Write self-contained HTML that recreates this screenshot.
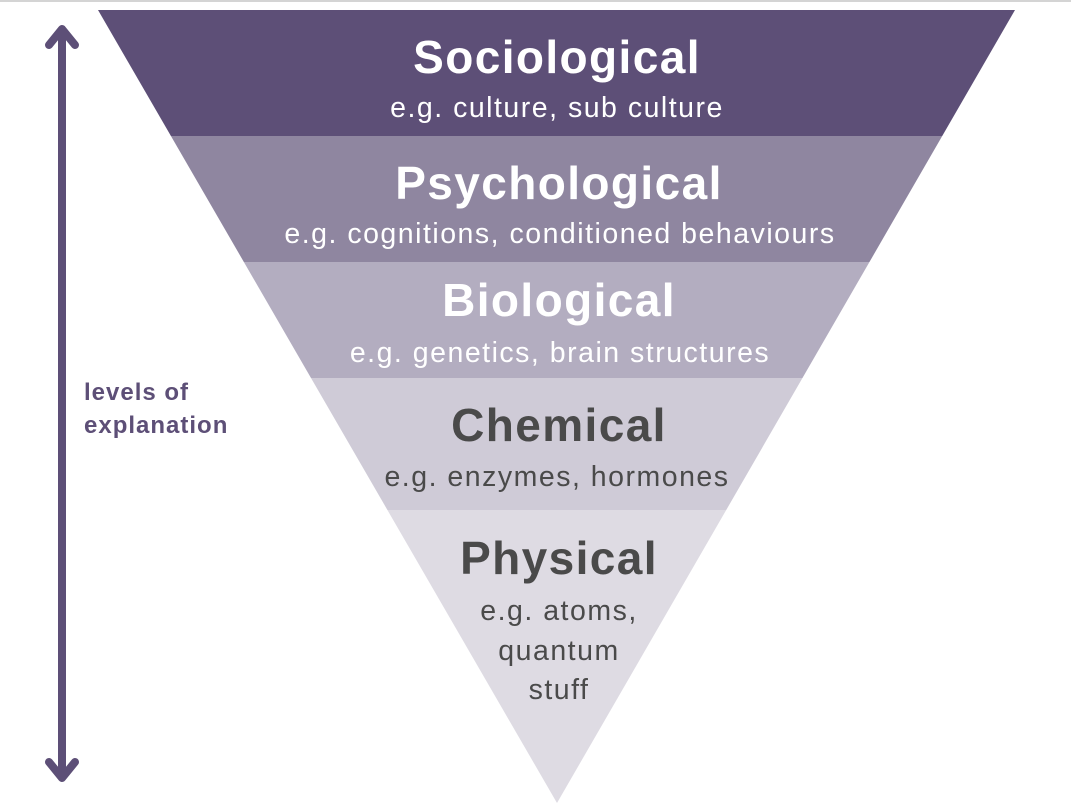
<!DOCTYPE html>
<html><head><meta charset="utf-8"><style>
body{margin:0;width:1071px;height:810px;background:#fff;overflow:hidden}
svg{display:block}
text{font-family:"Liberation Sans",sans-serif;text-anchor:middle}
.t{font-weight:bold;font-size:46px;letter-spacing:1.4px}
.s{font-size:28.5px;letter-spacing:1.5px}
</style></head><body>
<svg width="1071" height="810" viewBox="0 0 1071 810">
<rect x="0" y="0" width="1071" height="2" fill="#d4d4d4"/>
<defs><clipPath id="tri"><polygon points="98,10 1015,10 557,803"/></clipPath></defs>
<g clip-path="url(#tri)">
<rect x="0" y="10" width="1071" height="126" fill="#5d4f77"/>
<rect x="0" y="136" width="1071" height="126" fill="#8f86a0"/>
<rect x="0" y="262" width="1071" height="116" fill="#b3adc0"/>
<rect x="0" y="378" width="1071" height="132" fill="#cfcbd7"/>
<rect x="0" y="510" width="1071" height="300" fill="#dedbe3"/>
</g>
<g fill="#fff">
<text class="t" x="557" y="73">Sociological</text>
<text class="s" x="557" y="117">e.g. culture, sub culture</text>
<text class="t" x="559" y="199">Psychological</text>
<text class="s" x="560" y="243">e.g. cognitions, conditioned behaviours</text>
<text class="t" x="559" y="316">Biological</text>
<text class="s" x="560" y="362">e.g. genetics, brain structures</text>
</g>
<g fill="#4a4a4a">
<text class="t" x="559" y="441">Chemical</text>
<text class="s" x="557" y="486">e.g. enzymes, hormones</text>
<text class="t" x="559" y="574">Physical</text>
<text class="s" x="559" y="620">e.g. atoms,</text>
<text class="s" x="559" y="660">quantum</text>
<text class="s" x="559" y="699">stuff</text>
</g>
<g stroke="#5d4f77" stroke-width="8" stroke-linecap="round" stroke-linejoin="round" fill="none">
<line x1="62" y1="30" x2="62" y2="776"/>
<polyline points="49,45 62,29 75,45"/>
<polyline points="49,762 62,778 75,762"/>
</g>
<g fill="#5d4f77" font-weight="bold" font-size="24" letter-spacing="1">
<text x="84" y="400" style="text-anchor:start">levels of</text>
<text x="84" y="433" style="text-anchor:start">explanation</text>
</g>
</svg>
</body></html>
